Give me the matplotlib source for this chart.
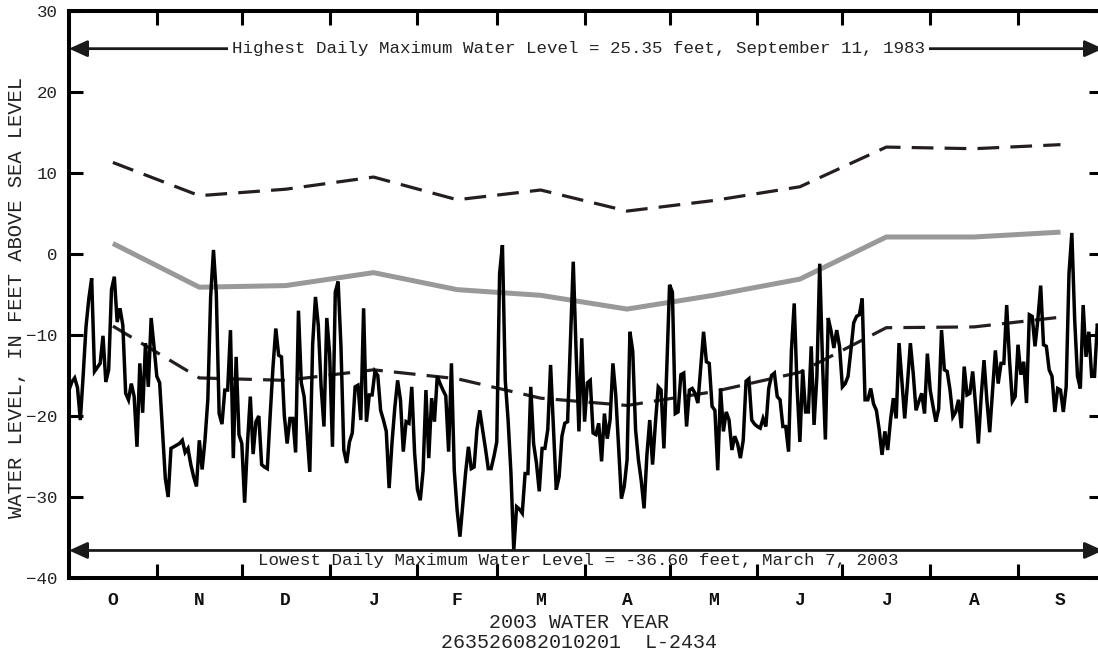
import numpy as np
import matplotlib
matplotlib.use("Agg")
import matplotlib.pyplot as plt

# Water year layout (days from October 1, 2002)
month_labels = ["O", "N", "D", "J", "F", "M", "A", "M", "J", "J", "A", "S"]
month_days = [31, 30, 31, 31, 28, 31, 30, 31, 30, 31, 31, 30]

# Monthly statistics of daily maximum water level (feet)
monthly_max = [11.3, 7.2, 8.0, 9.5, 6.7, 7.9, 5.3, 6.6, 8.3, 13.2, 13.0, 13.5]
monthly_mean = [1.3, -4.1, -3.9, -2.3, -4.4, -5.1, -6.8, -5.1, -3.1, 2.1, 2.1, 2.7]
monthly_min = [-8.9, -15.3, -15.6, -14.3, -15.4, -17.8, -18.7, -17.0, -14.6, -9.1, -9.0, -7.8]

# Daily maximum water level, 2003 water year (feet)
daily_max = [
    -16.8, -15.8, -15.3, -16.5, -20.5, -15.0, -9.0, -5.5, -3.0, -14.5,
    -14.0, -13.5, -10.1, -15.8, -14.3, -4.4, -2.8, -8.4, -6.7, -8.8,
    -17.2, -18.0, -16.0, -17.6, -23.8, -13.5, -19.6, -11.0, -16.4, -7.9,
    -11.4, -15.1, -15.9, -21.7, -27.7, -30.0, -24.0, -23.8, -23.6, -23.4,
    -23.0, -24.5, -24.0, -26.0, -27.5, -28.7, -23.0, -26.6, -23.0, -18.0,
    -5.3, 0.5, -4.9, -19.7, -21.0, -16.8, -16.8, -9.4, -25.2, -12.7,
    -22.3, -23.4, -30.7, -23.4, -17.6, -24.7, -20.7, -20.0, -26.0, -26.3,
    -26.5, -20.0, -14.0, -9.2, -12.5, -12.7, -19.9, -23.4, -20.3, -20.3,
    -24.5, -7.0, -15.9, -17.6, -22.0, -26.9, -11.2, -5.3, -8.8, -16.4,
    -21.3, -7.9, -12.3, -23.8, -4.7, -3.4, -11.4, -24.2, -25.8, -23.2,
    -22.1, -16.4, -16.2, -20.5, -6.7, -20.7, -17.4, -17.4, -14.5, -15.0,
    -19.3, -20.5, -21.9, -28.9, -23.4, -19.0, -15.6, -18.0, -24.4, -20.7,
    -20.9, -16.4, -24.6, -29.1, -30.4, -26.7, -16.8, -25.2, -17.8, -20.7,
    -15.1, -16.0, -16.8, -17.5, -24.4, -13.5, -26.7, -31.6, -34.9, -31.0,
    -27.0, -23.8, -26.5, -26.3, -21.7, -19.3, -21.7, -24.0, -26.5, -26.5,
    -25.0, -23.2, -2.4, 1.1, -15.6, -20.5, -27.0, -36.6, -31.2, -31.5,
    -32.0, -27.1, -27.1, -16.4, -23.4, -25.8, -29.3, -24.0, -24.0, -21.7,
    -13.7, -21.3, -29.1, -27.5, -22.5, -20.9, -20.7, -11.0, -0.95, -12.0,
    -21.9, -10.4, -20.7, -15.9, -15.6, -22.1, -22.3, -20.9, -25.6, -19.7,
    -22.8, -20.5, -13.5, -17.4, -23.8, -30.2, -28.7, -25.4, -9.6, -12.0,
    -21.7, -25.4, -28.0, -31.4, -24.8, -20.5, -26.0, -20.9, -16.4, -16.8,
    -24.0, -14.3, -3.8, -4.7, -19.7, -19.5, -14.9, -14.7, -21.3, -16.8,
    -16.6, -17.2, -18.4, -14.0, -9.6, -13.3, -13.5, -18.8, -19.3, -26.7,
    -16.6, -21.9, -19.5, -20.5, -24.2, -22.5, -23.4, -25.2, -23.0, -15.7,
    -15.4, -20.5, -21.0, -21.3, -21.5, -20.3, -21.3, -16.6, -15.0, -14.7,
    -17.6, -18.0, -21.3, -21.3, -24.4, -12.0, -6.1, -16.4, -23.2, -14.3,
    -19.5, -19.5, -11.4, -21.1, -15.1, -1.2, -13.5, -22.9, -7.9, -9.5,
    -11.6, -9.4, -11.4, -16.4, -16.0, -15.1, -11.9, -8.5, -7.7, -7.5,
    -5.5, -18.0, -18.0, -16.6, -18.5, -19.3, -21.7, -24.8, -21.9, -24.2,
    -20.5, -17.8, -20.3, -11.0, -15.6, -20.3, -15.9, -11.0, -14.7, -19.3,
    -18.2, -17.2, -19.7, -12.3, -16.8, -18.8, -20.7, -19.1, -9.4, -14.3,
    -14.5, -16.8, -20.1, -19.5, -18.0, -21.5, -13.9, -17.4, -17.2, -14.5,
    -18.6, -23.4, -17.6, -13.1, -18.0, -22.0, -17.0, -11.9, -16.0, -13.5,
    -13.5, -6.3, -13.1, -18.2, -17.6, -11.2, -14.9, -13.3, -18.4, -7.5,
    -7.7, -11.4, -8.1, -3.9, -11.2, -11.4, -14.3, -15.1, -19.5, -16.6,
    -16.8, -19.5, -16.4, -2.4, 2.6, -8.1, -15.1, -16.6, -6.3, -12.7,
    -9.6, -15.1, -15.1, -8.6, -10.0,
]

record_high = 25.35
record_low = -36.60
high_text = "Highest Daily Maximum Water Level = 25.35 feet, September 11, 1983"
low_text = "Lowest Daily Maximum Water Level = -36.60 feet, March 7, 2003"
x_title = "2003 WATER YEAR"
site_id = "263526082010201  L-2434"
y_title = "WATER LEVEL, IN FEET ABOVE SEA LEVEL"

plt.rcParams["font.family"] = ["Liberation Mono", "DejaVu Sans Mono"]

bounds = np.concatenate([[0], np.cumsum(month_days)])
centers = (bounds[:-1] + bounds[1:]) / 2.0
n_days = int(bounds[-1])
days = np.arange(len(daily_max))

fig = plt.figure(figsize=(10.98, 6.60), dpi=100)
ax = fig.add_axes([69 / 1098, 82 / 660, 1034 / 1098, 567 / 660])

ax.plot(centers, monthly_mean, color="#999999", lw=3.6, solid_capstyle="butt", zorder=2)
ax.plot(centers, monthly_max, color="#231f20", lw=2.3, linestyle=(0, (6.8, 3.5)), zorder=3)
ax.plot(centers, monthly_min, color="#231f20", lw=2.3, linestyle=(0, (6.8, 3.5)), zorder=3)
ax.plot(days, daily_max, color="black", lw=2.5, solid_joinstyle="miter", zorder=4)

arrow_kw = dict(arrowstyle="<|-|>,head_length=0.55,head_width=0.25", color="#1a1a1a",
                lw=2.0, shrinkA=0, shrinkB=0, mutation_scale=20)
ax.annotate("", xy=(0, record_high), xytext=(n_days, record_high),
            arrowprops=arrow_kw, annotation_clip=False, zorder=5)
ax.annotate("", xy=(0, record_low), xytext=(n_days, record_low),
            arrowprops=arrow_kw, annotation_clip=False, zorder=5)

text_x = (578.5 - 69) / 1034 * n_days
ax.text(text_x, record_high, high_text, ha="center", va="center", fontsize=12.6,
        color="#222222", zorder=6,
        bbox=dict(boxstyle="square,pad=0.25", fc="white", ec="none"))
ax.text(text_x, -37.85, low_text, ha="center", va="center", fontsize=12.6,
        color="#222222", zorder=1)

ax.set_xlim(0, n_days)
ax.set_ylim(-40, 30)
ax.set_yticks(np.arange(-40, 31, 10))
ax.set_xticks(bounds[1:-1])
ax.set_xticklabels([])
ax.tick_params(axis="both", which="major", direction="in", length=10, width=2.2,
               top=True, right=True, labelsize=12.6, pad=8, colors="black")
ax.tick_params(axis="y", labelcolor="#222222")
for side in ["left", "top", "bottom", "right"]:
    ax.spines[side].set_linewidth(2.9)

for c, lab in zip(centers, month_labels):
    ax.text(c, -0.039, lab, transform=ax.get_xaxis_transform(), ha="center",
            va="center", fontsize=13, fontweight="bold", color="#111111")

fig.text(579 / 1098, 1 - 622 / 660, x_title, ha="center", va="center", fontsize=14.4, color="#222222")
fig.text(579 / 1098, 1 - 643 / 660, site_id, ha="center", va="center", fontsize=14.4, color="#222222")
fig.text(17 / 1098, 1 - 297 / 660, y_title, ha="center", va="center", rotation=90,
         fontsize=14.8, color="#222222")

fig.savefig("out.png", dpi=100)
